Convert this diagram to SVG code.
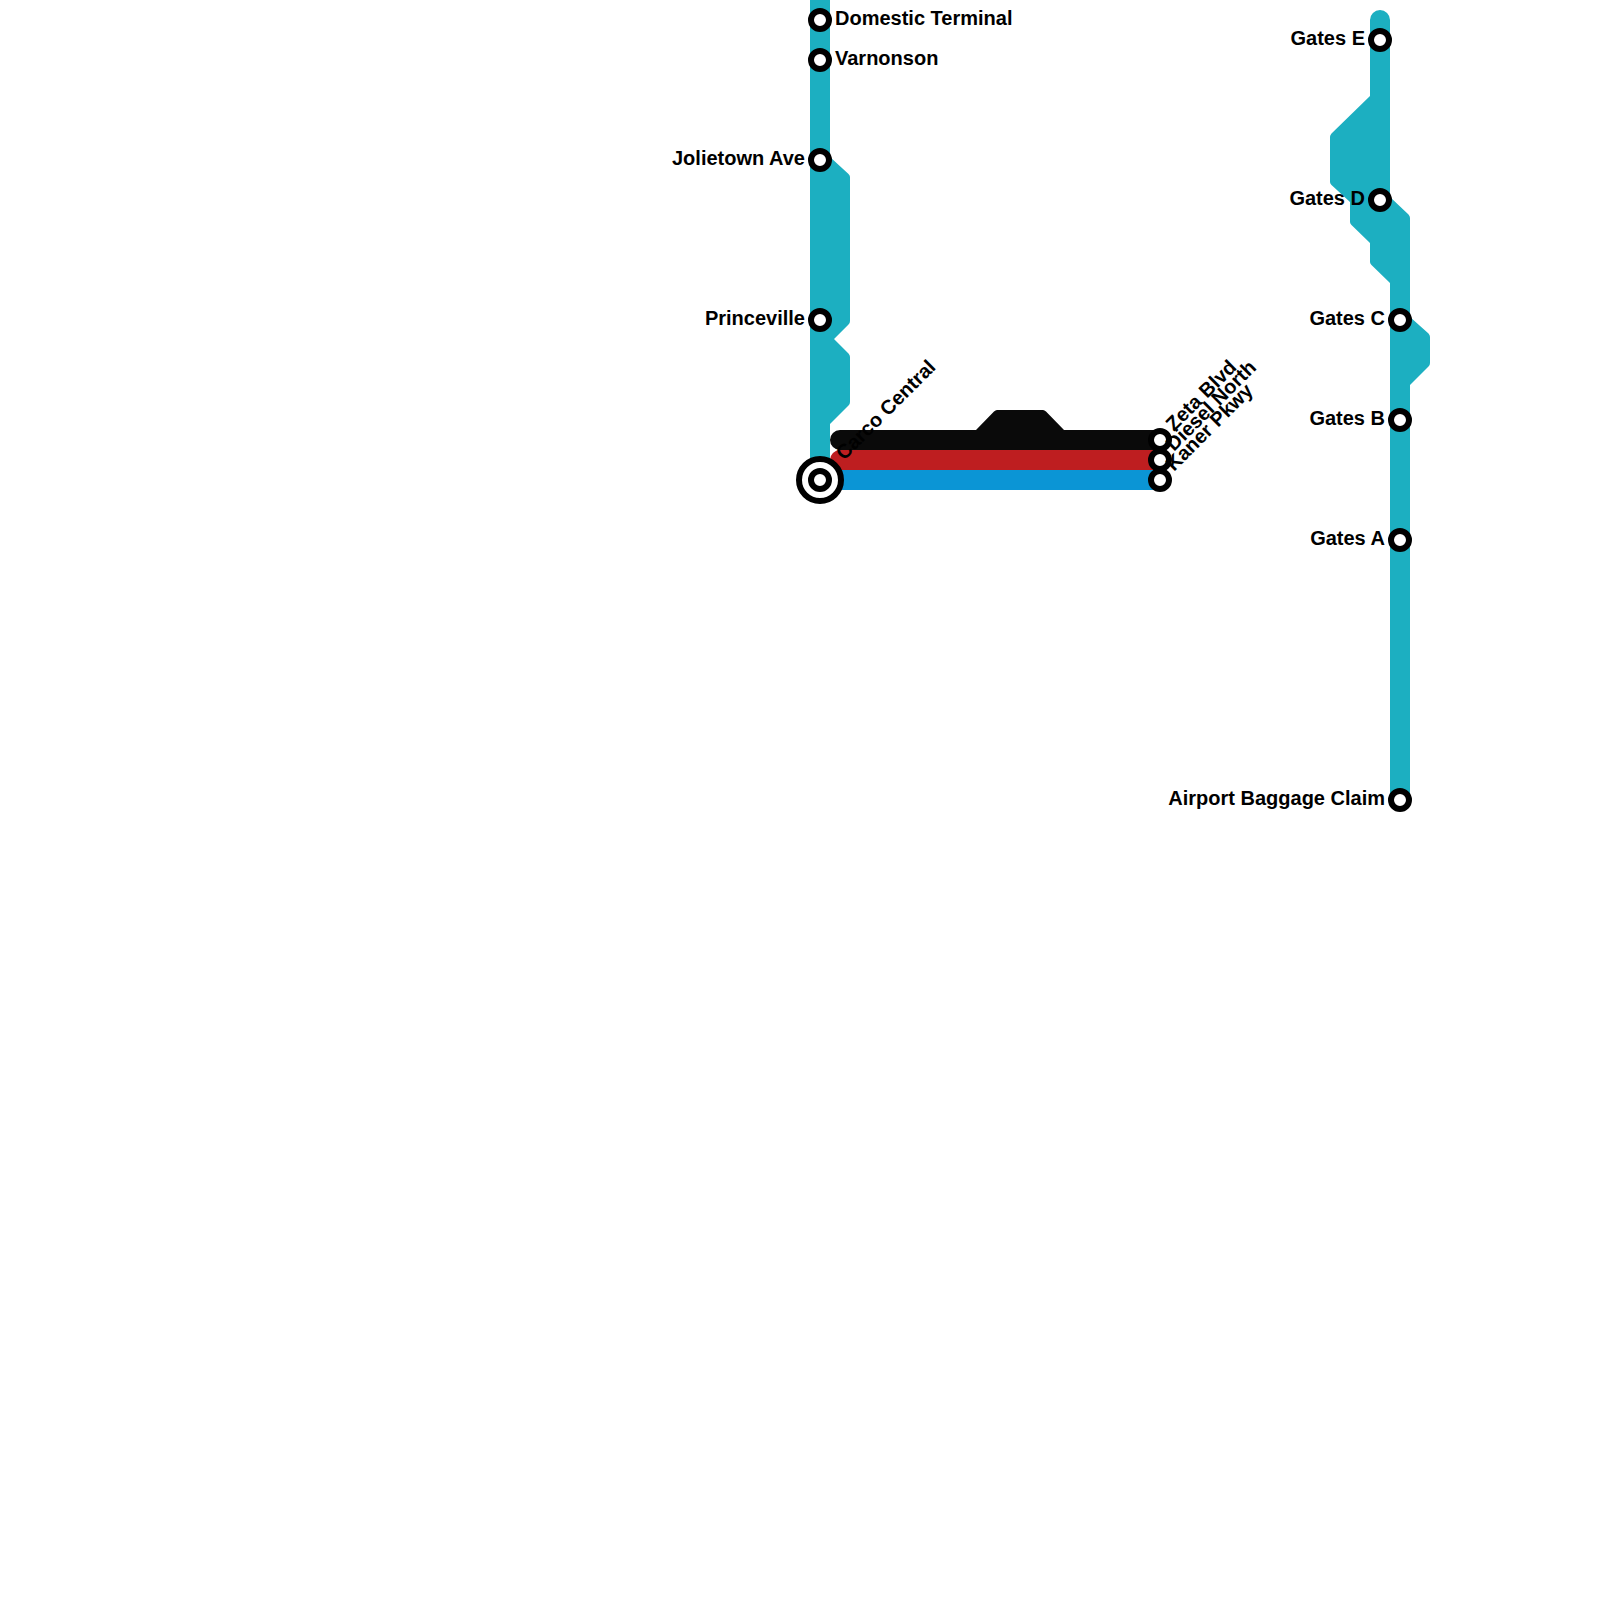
<svg xmlns="http://www.w3.org/2000/svg" width="1600" height="1600" viewBox="0 0 1600 1600">
<style>
.teal{fill:#1cafc1}
.st{fill:#fff;stroke:#000;stroke-width:6}
.lb{font-family:"Liberation Sans",Arial,sans-serif;font-size:20px;font-weight:700;fill:#000}
.e{text-anchor:end}
</style>
<rect width="1600" height="1600" fill="#fff"/>
<g id="connectors">
<path class="teal" d="M810 0H830V157L848.500 174Q850 175.500 850 177V321Q850 323 848.500 324.500L834 339L848.500 353.500Q850 355 850 357V402Q850 404 848.500 405.500L830 424V470H810Z"/>
<path class="teal" d="M1370 20A10 10 0 0 1 1390 20V197L1408.500 214.500Q1410 216 1410 218V317L1428.500 333.500Q1430 335 1430 337V363Q1430 365 1428.500 366.500L1410 385V800H1390V283L1371.500 265Q1370 263.500 1370 262V243L1351.500 225Q1350 223.500 1350 222V202L1331.500 185Q1330 183.500 1330 182V137Q1330 135 1331.500 133.500L1370 96Z"/>
<path d="M830 480A10 10 0 0 1 840 470H1160V490H830Z" fill="#0b95d5"/>
<path d="M830 460A10 10 0 0 1 840 450H1160V470H830Z" fill="#be1e20"/>
<path d="M830 440A10 10 0 0 1 840 430H976L994 411.500Q995.500 410 997 410H1043Q1044.500 410 1046 411.500L1064 430H1160V450H840A10 10 0 0 1 830 440Z" fill="#0a0a0a"/>
</g>
<g id="domestic-terminal"><circle class="st" cx="820" cy="20" r="9"/><text class="lb" x="835" y="25">Domestic Terminal</text></g>
<g id="varnonson"><circle class="st" cx="820" cy="60" r="9"/><text class="lb" x="835" y="65">Varnonson</text></g>
<g id="jolietown-ave"><circle class="st" cx="820" cy="160" r="9"/><text class="lb e" x="805" y="165">Jolietown Ave</text></g>
<g id="princeville"><circle class="st" cx="820" cy="320" r="9"/><text class="lb e" x="805" y="325">Princeville</text></g>
<g id="carco-central"><circle class="st" cx="820" cy="480" r="21"/><circle class="st" cx="820" cy="480" r="9"/><text class="lb" transform="translate(844 461) rotate(-45)">Carco Central</text></g>
<g id="zeta-blvd"><circle class="st" cx="1160" cy="440" r="9"/><text class="lb" transform="translate(1174 432) rotate(-45)">Zeta Blvd</text></g>
<g id="diesel-north"><circle class="st" cx="1160" cy="460" r="9"/><text class="lb" transform="translate(1174 452) rotate(-45)">Diesel North</text></g>
<g id="kaner-pkwy"><circle class="st" cx="1160" cy="480" r="9"/><text class="lb" transform="translate(1174 472) rotate(-45)">Kaner Pkwy</text></g>
<g id="gates-e"><circle class="st" cx="1380" cy="40" r="9"/><text class="lb e" x="1365" y="45">Gates E</text></g>
<g id="gates-d"><circle class="st" cx="1380" cy="200" r="9"/><text class="lb e" x="1365" y="205">Gates D</text></g>
<g id="gates-c"><circle class="st" cx="1400" cy="320" r="9"/><text class="lb e" x="1385" y="325">Gates C</text></g>
<g id="gates-b"><circle class="st" cx="1400" cy="420" r="9"/><text class="lb e" x="1385" y="425">Gates B</text></g>
<g id="gates-a"><circle class="st" cx="1400" cy="540" r="9"/><text class="lb e" x="1385" y="545">Gates A</text></g>
<g id="airport-baggage-claim"><circle class="st" cx="1400" cy="800" r="9"/><text class="lb e" x="1385" y="805">Airport Baggage Claim</text></g>
</svg>
